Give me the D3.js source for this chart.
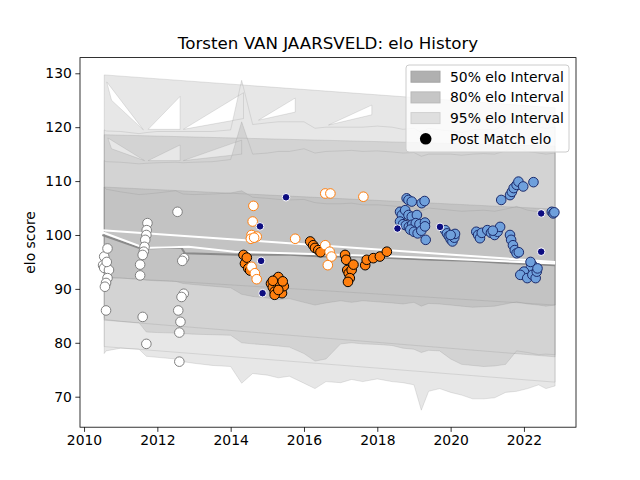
<!DOCTYPE html>
<html>
<head>
<meta charset="utf-8">
<script src="https://cdn.jsdelivr.net/npm/d3@7"></script>
<style>
  body { margin: 0; background: #fff; }
  text { font-family: "DejaVu Sans", sans-serif; }
</style>
</head>
<body>
<div id="chart"></div>
<script>
// elo history data
var bandYears = [2010.55, 2010.6, 2011.0, 2011.5, 2011.7, 2012.0, 2012.5, 2012.7, 2013.0, 2013.5,
                 2014.0, 2014.3, 2014.6, 2015.0, 2015.3, 2015.6, 2016.0, 2016.3, 2016.6, 2017.0,
                 2017.3, 2017.6, 2018.0, 2018.4, 2018.7, 2019.0, 2019.2, 2019.4, 2019.7, 2020.0,
                 2020.3, 2020.6, 2020.9, 2021.2, 2021.5, 2021.8, 2022.1, 2022.4, 2022.6, 2022.85];
var hi95 = [119.5, 119.3, 119.2, 118.8, 119.0, 119.2, 119.2, 119.2, 119.2, 119.2,
            119.5, 128.7, 120.5, 120.8, 121.0, 121.0, 121.0, 119.8, 120.0, 120.0,
            120.0, 120.0, 120.2, 120.0, 119.6, 119.8, 119.0, 119.8, 119.5, 119.3,
            119.0, 119.5, 119.6, 119.5, 120.5, 121.5, 120.5, 120.0, 119.8, 120.0];
var lo95 = [78.0, 78.5, 79.0, 78.8, 77.5, 77.3, 77.0, 76.5, 76.2, 75.8,
            75.6, 72.5, 74.3, 74.0, 73.5, 73.8, 72.5, 71.5, 72.8, 72.6,
            73.2, 72.8, 73.3, 72.8, 72.6, 72.2, 67.5, 71.0, 71.5, 70.8,
            70.3, 69.6, 69.6, 69.8, 70.8, 71.0, 71.5, 72.2, 71.5, 72.0];
var hi80 = [113.8, 113.6, 113.5, 113.2, 113.3, 113.4, 113.5, 113.4, 113.5, 113.6,
            114.0, 121.0, 115.0, 115.2, 115.5, 115.5, 116.0, 115.2, 115.5, 115.6,
            115.7, 115.5, 115.6, 115.4, 115.2, 115.3, 114.6, 115.0, 115.0, 115.0,
            114.8, 115.0, 115.1, 115.0, 115.6, 116.3, 115.5, 115.2, 115.0, 115.2];
var lo80 = [84.6, 84.3, 84.0, 83.7, 82.0, 81.9, 81.8, 81.7, 81.6, 81.5,
            81.4, 80.0, 79.8, 79.6, 79.4, 79.2, 78.0, 76.6, 77.0, 79.8,
            80.0, 79.8, 79.7, 79.5, 79.0, 78.8, 78.2, 78.6, 78.5, 77.0,
            76.0, 75.8, 75.6, 75.7, 76.0, 78.5, 78.2, 77.8, 77.9, 77.8];
var hi50 = [108.9, 108.5, 108.0, 107.5, 107.6, 107.8, 108.2, 107.6, 107.5, 107.6,
            107.8, 108.2, 107.0, 106.8, 106.6, 106.5, 106.6, 106.0, 105.8, 105.8,
            105.9, 105.6, 105.6, 105.4, 105.2, 105.0, 104.5, 105.0, 104.8, 104.6,
            104.4, 104.5, 104.6, 104.4, 104.8, 105.3, 104.6, 104.3, 104.0, 104.2];
var lo50 = [92.2, 92.0, 92.0, 91.8, 91.6, 91.5, 91.4, 91.0, 90.8, 90.5,
            90.2, 89.0, 88.6, 88.3, 88.0, 88.2, 87.5, 87.0, 87.4, 87.8,
            87.5, 87.8, 87.6, 87.4, 87.2, 87.5, 86.8, 87.3, 87.2, 87.0,
            86.8, 86.6, 86.7, 86.8, 87.2, 87.6, 87.2, 87.0, 86.8, 87.0];

// straight trend bands
var trendYears = [2010.55, 2022.85];
var trendHi95 = [129.7, 123.6];
var trendLo95 = [79.3, 72.7];
var trendHi80 = [118.6, 116.5];
var trendLo80 = [84.2, 77.4];
var trendHi50 = [108.9, 104.8];
var trendLo50 = [92.2, 87.0];

// uncovered triangles where the band outline crosses itself
var gaps95 = [
    [[2010.62, 128.4], [2011.62, 119.5], [2010.75, 125.0]],
    [[2011.75, 119.6], [2012.62, 125.7], [2012.62, 119.6]],
    [[2012.71, 119.6], [2014.35, 126.4], [2014.35, 121.6]],
    [[2014.76, 121.3], [2015.76, 125.4], [2015.76, 122.8]],
    [[2016.67, 120.4], [2017.85, 124.1], [2017.85, 122.3]]
];
var gaps80 = [
    [[2010.65, 118.0], [2011.65, 113.8], [2010.75, 116.0]],
    [[2011.75, 113.8], [2012.62, 116.7], [2012.62, 113.8]],
    [[2012.71, 113.8], [2014.3, 117.6], [2014.3, 115.0]]
];

// lines
var whiteAYears = [2010.5, 2022.85];
var whiteAElo = [100.9, 95.0];
var whiteBYears = [2010.5, 2011.65, 2012.85, 2014.1, 2018.5, 2022.85];
var whiteBElo = [100.5, 97.6, 97.8, 96.9, 96.0, 94.7];
var grayYears = [2010.5, 2011.55, 2012.65, 2012.75, 2014.4, 2015.5, 2016.5, 2017.5, 2018.2, 2019.5, 2020.5, 2021.5, 2022.85];
var grayElo = [100.0, 97.5, 97.7, 96.6, 96.3, 96.4, 96.0, 96.0, 95.8, 95.4, 95.2, 94.8, 94.4];

// post match points by group
var earlyYears = [2010.55, 2010.64, 2010.52, 2010.55, 2010.68, 2010.64, 2010.6, 2010.57, 2010.6, 2010.62,
                  2011.53, 2011.53, 2011.6, 2011.7, 2011.73, 2011.71, 2011.7, 2011.67, 2011.65, 2011.63, 2011.6,
                  2012.55, 2012.73, 2012.68, 2012.72, 2012.66, 2012.57, 2012.63, 2012.6, 2012.6];
var earlyElo = [96.0, 97.5, 94.4, 93.9, 93.5, 92.0, 91.1, 90.4, 86.0, 95.0,
                94.5, 92.5, 84.8, 79.8, 102.2, 100.9, 100.0, 99.1, 97.8, 96.9, 96.3,
                104.3, 95.7, 95.2, 89.1, 88.5, 86.0, 83.9, 81.9, 76.5];

var orangeYears = [2014.35, 2014.39, 2014.48, 2014.44, 2014.53,
                   2015.1, 2015.15, 2015.2, 2015.25, 2015.3, 2015.35, 2015.4, 2015.45, 2015.2, 2015.3, 2015.15, 2015.42,
                   2016.17, 2016.25, 2016.3, 2016.39, 2016.45,
                   2017.12, 2017.15, 2017.18, 2017.22, 2017.3, 2017.25, 2017.2, 2017.35,
                   2017.67, 2017.71, 2017.89, 2018.07, 2018.26];
var orangeElo = [96.3, 94.7, 93.8, 95.8, 93.4,
                 91.0, 90.3, 89.5, 91.8, 92.2, 90.8, 89.2, 90.5, 88.9, 89.8, 91.5, 91.4,
                 98.8, 98.1, 97.6, 97.2, 96.8,
                 96.3, 95.4, 93.5, 92.9, 93.5, 92.0, 91.3, 94.5,
                 94.4, 95.4, 95.7, 96.0, 96.9];

var ringYears = [2014.62, 2014.6, 2014.57, 2014.71, 2014.55, 2014.64, 2014.57, 2014.66, 2014.71,
                 2015.76, 2016.58, 2016.7, 2016.75, 2016.65, 2016.58, 2016.72, 2017.62];
var ringElo = [105.4, 102.5, 100.0, 99.7, 99.3, 99.5, 94.1, 92.9, 91.8,
               99.3, 98.1, 96.9, 96.0, 94.4, 107.7, 107.7, 107.1];

var blueYears = [2018.8, 2018.85, 2018.94, 2019.21, 2019.29,
                 2018.62, 2018.67, 2018.76, 2018.85, 2018.94, 2019.08,
                 2018.62, 2018.7, 2018.78, 2018.86, 2018.95, 2019.05, 2019.15, 2019.3,
                 2018.9, 2019.0, 2019.1, 2019.2, 2019.3, 2019.32,
                 2019.85, 2019.9, 2019.95, 2020.0, 2020.05, 2020.1, 2020.12, 2020.0,
                 2020.7, 2020.75, 2020.8, 2020.85, 2021.0, 2021.1, 2021.2, 2021.28, 2021.35, 2021.15,
                 2021.38, 2021.62, 2021.67, 2021.72, 2021.8, 2021.85, 2021.98, 2022.26,
                 2021.62, 2021.65, 2021.7, 2021.75, 2021.8, 2021.86,
                 2022.23, 2022.18, 2022.0, 2021.9, 2022.09, 2022.23, 2022.32, 2022.35, 2022.37, 2022.18,
                 2022.76, 2022.8, 2022.83];
var blueElo = [106.8, 106.5, 106.2, 105.9, 106.3,
               104.3, 103.7, 104.6, 103.7, 103.4, 103.7,
               102.5, 102.0, 101.8, 101.5, 101.9, 102.2, 102.0, 102.3,
               101.0, 100.6, 100.3, 100.8, 101.6, 99.1,
               100.9, 100.3, 99.8, 99.2, 98.8, 99.5, 100.2, 100.0,
               100.6, 100.0, 99.4, 100.4, 100.9, 100.4, 100.0, 100.6, 101.5, 100.8,
               106.5, 107.4, 108.0, 108.7, 109.3, 109.9, 109.0, 109.8,
               100.0, 99.1, 98.1, 97.2, 96.6, 96.8,
               94.4, 93.8, 93.2, 92.6, 92.0, 92.6, 92.0, 93.2, 93.8, 95.0,
               104.3, 104.0, 104.2];

var navyYears = [2014.8, 2014.83, 2014.87, 2015.51, 2018.55, 2019.71, 2022.47, 2022.47];
var navyElo = [101.6, 95.2, 89.2, 107.0, 101.2, 101.5, 104.0, 96.9];

var xTicks = [2010, 2012, 2014, 2016, 2018, 2020, 2022];
var yTicks = [70, 80, 90, 100, 110, 120, 130];
var legendLabels = ["50% elo Interval", "80% elo Interval", "95% elo Interval", "Post Match elo"];

var svgWidth = 640;
var svgHeight = 480;
var margin = { top: 57.6, right: 64, bottom: 52.8, left: 80 };
var width = svgWidth - margin.left - margin.right;
var height = svgHeight - margin.top - margin.bottom;

var svg = d3.select("#chart").append("svg")
    .attr("width", svgWidth)
    .attr("height", svgHeight);

var chartGroup = svg.append("g")
    .attr("transform", "translate(" + margin.left + "," + margin.top + ")");

var x = d3.scaleLinear().domain([2009.89, 2023.42]).range([0, width]);
var y = d3.scaleLinear().domain([64.34, 132.91]).range([height, 0]);

function zipBand(xs, lo, hi) {
    return xs.map(function(d, i) { return { t: d, lo: lo[i], hi: hi[i] }; });
}
function zipPts(xs, vs) {
    return xs.map(function(d, i) { return { t: d, v: vs[i] }; });
}

var area = d3.area()
    .x(function(d) { return x(d.t); })
    .y0(function(d) { return y(d.lo); })
    .y1(function(d) { return y(d.hi); });

// a gap triangle wound the other way cancels the fill (nonzero rule)
function gapPath(tri) {
    var pts = tri.map(function(p) { return [x(p[0]), y(p[1])]; });
    var s = 0;
    for (var i = 0; i < pts.length; i++) {
        var a = pts[i], b = pts[(i + 1) % pts.length];
        s += a[0] * b[1] - b[0] * a[1];
    }
    if (s > 0) pts.reverse();
    return "M" + pts.map(function(p) { return p.join(","); }).join("L") + "Z";
}

var bands = [
    { run: zipBand(bandYears, lo95, hi95), trend: zipBand(trendYears, trendLo95, trendHi95), gaps: gaps95 },
    { run: zipBand(bandYears, lo80, hi80), trend: zipBand(trendYears, trendLo80, trendHi80), gaps: gaps80 },
    { run: zipBand(bandYears, lo50, hi50), trend: zipBand(trendYears, trendLo50, trendHi50), gaps: [] }
];

bands.forEach(function(b) {
    chartGroup.append("path")
        .attr("d", area(b.trend) + area(b.run) + b.gaps.map(gapPath).join(""))
        .attr("fill", "#808080")
        .attr("fill-opacity", 0.19)
        .attr("stroke", "#808080")
        .attr("stroke-opacity", 0.2)
        .attr("stroke-width", 1);
});

var line = d3.line()
    .x(function(d) { return x(d.t); })
    .y(function(d) { return y(d.v); });

chartGroup.append("path")
    .attr("d", line(zipPts(grayYears, grayElo)))
    .attr("fill", "none").attr("stroke", "#8a8a8a").attr("stroke-width", 2);
chartGroup.append("path")
    .attr("d", line(zipPts(whiteBYears, whiteBElo)))
    .attr("fill", "none").attr("stroke", "#ffffff").attr("stroke-width", 2);
chartGroup.append("path")
    .attr("d", line(zipPts(whiteAYears, whiteAElo)))
    .attr("fill", "none").attr("stroke", "#ffffff").attr("stroke-width", 2);

function dots(data, r, fill, edge) {
    chartGroup.append("g").selectAll("circle")
        .data(data)
        .enter().append("circle")
        .attr("cx", function(d) { return x(d.t); })
        .attr("cy", function(d) { return y(d.v); })
        .attr("r", r)
        .attr("fill", fill)
        .attr("stroke", edge)
        .attr("stroke-width", 1);
}

dots(zipPts(earlyYears, earlyElo), 4.8, "#ffffff", "#808080");
dots(zipPts(orangeYears, orangeElo), 4.8, "#ff7f0e", "#000000");
dots(zipPts(ringYears, ringElo), 4.8, "#ffffff", "#ff7f0e");
dots(zipPts(blueYears, blueElo), 4.8, "#6fa0dc", "#1b2a6b");
dots(zipPts(navyYears, navyElo), 3.8, "#0d0d80", "#ffffff");

// axes
var bottomAxis = d3.axisBottom(x).tickValues(xTicks).tickFormat(d3.format("d"))
    .tickSize(4.67).tickPadding(3.5);
var leftAxis = d3.axisLeft(y).tickValues(yTicks).tickSize(4.67).tickPadding(3.5);

var xg = chartGroup.append("g")
    .attr("transform", "translate(0," + height + ")")
    .call(bottomAxis);
var yg = chartGroup.append("g").call(leftAxis);

[xg, yg].forEach(function(g) {
    g.select(".domain").remove();
    g.selectAll("text").attr("font-size", "13.9px").attr("fill", "#000")
        .attr("font-family", "DejaVu Sans");
    g.selectAll("line").attr("stroke", "#000").attr("stroke-width", 0.8);
});

chartGroup.append("rect")
    .attr("width", width).attr("height", height)
    .attr("fill", "none").attr("stroke", "#000").attr("stroke-width", 0.8);

// title and label
svg.append("text")
    .attr("x", margin.left + width / 2)
    .attr("y", 49)
    .attr("text-anchor", "middle")
    .attr("font-size", "16.7px")
    .text("Torsten VAN JAARSVELD: elo History");

svg.append("text")
    .attr("transform", "translate(35," + (margin.top + height / 2) + ") rotate(-90)")
    .attr("text-anchor", "middle")
    .attr("font-size", "13.9px")
    .text("elo score");

// legend
var legend = svg.append("g").attr("transform", "translate(406,65)");
legend.append("rect")
    .attr("width", 163).attr("height", 87).attr("rx", 3)
    .attr("fill", "#ffffff").attr("fill-opacity", 0.8)
    .attr("stroke", "#cccccc").attr("stroke-width", 1);

var patchColors = ["#b0b0b0", "#c6c6c6", "#dfdfdf"];
legendLabels.forEach(function(label, i) {
    var cy = 11.7 + i * 20.7;
    if (i < 3) {
        legend.append("rect")
            .attr("x", 5).attr("y", cy - 5.5).attr("width", 29).attr("height", 11)
            .attr("fill", patchColors[i]).attr("stroke", d3.color(patchColors[i]).darker(0.2));
    } else {
        legend.append("circle")
            .attr("cx", 19.7).attr("cy", cy).attr("r", 5.8).attr("fill", "#000");
    }
    legend.append("text")
        .attr("x", 44).attr("y", cy).attr("dy", "0.35em")
        .attr("font-size", "13.9px")
        .text(label);
});
</script>
</body>
</html>
